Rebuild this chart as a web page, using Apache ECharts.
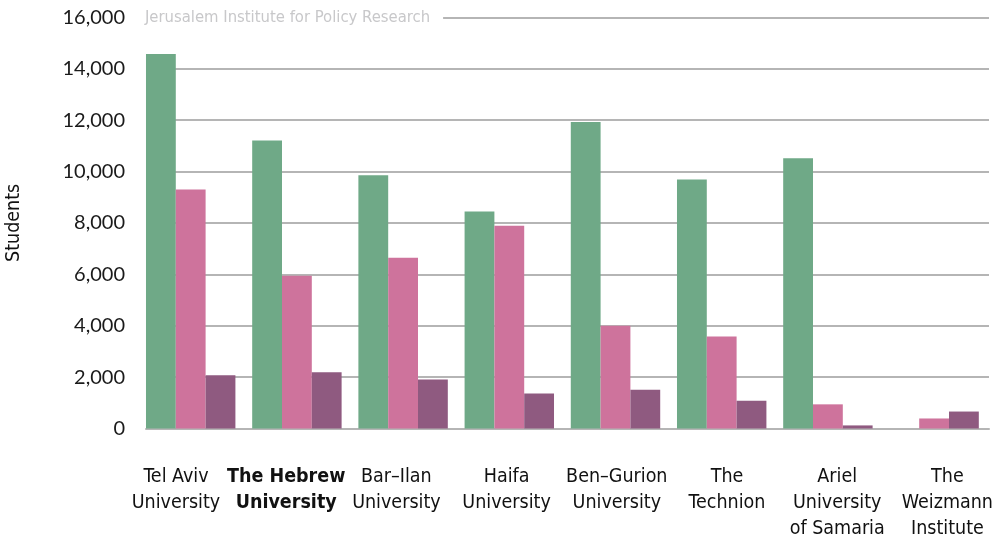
<!DOCTYPE html>
<html>
<head>
<meta charset="utf-8">
<script src="https://cdn.jsdelivr.net/npm/echarts@6/dist/echarts.min.js"></script>
<style>
html,body{margin:0;padding:0;background:#fff;}
#chart{width:994px;height:537px;}
</style>
</head>
<body>
<div id="chart"></div>
<script>
const categories = [
  "Tel Aviv\nUniversity",
  "The Hebrew\nUniversity",
  "Bar\u2013Ilan\nUniversity",
  "Haifa\nUniversity",
  "Ben\u2013Gurion\nUniversity",
  "The\nTechnion",
  "Ariel\nUniversity\nof Samaria",
  "The\nWeizmann\nInstitute"
];
const seriesNames = ["Bachelor's degree", "Master's degree", "Doctoral degree"];
const bachelor = [14570, 11210, 9850, 8440, 11930, 9690, 10520, 0];
const master = [9300, 5940, 6640, 7890, 4000, 3580, 940, 390];
const doctoral = [2070, 2190, 1910, 1360, 1510, 1080, 120, 660];
const yTicks = { min: 0, max: 16000, interval: 2000 };
const titleText = "Jerusalem Institute for Policy Research";
const yAxisName = "Students";

const narrow = "'DejaVu Sans Condensed', 'Liberation Sans Narrow', sans-serif";
const colors = ["#6fa987", "#ce739c", "#8f5a80"];
const gridTop = 17.3, gridBottom = 537 - 428.5;

const chart = echarts.init(document.getElementById('chart'), null, {renderer: 'canvas'});
chart.setOption({
  animation: false,
  backgroundColor: '#ffffff',
  title: {
    text: titleText,
    left: 145, top: 7,
    padding: [2, 13, 2, 0],
    backgroundColor: '#ffffff',
    z: 10,
    textStyle: { fontFamily: narrow, fontSize: 16.5, fontWeight: 'normal', color: '#c8c8ca' }
  },
  grid: [
    { left: 137.6, right: 6.8, top: gridTop, bottom: gridBottom, outerBoundsMode: 'none' },
    { left: 146, right: 5, top: gridTop, bottom: gridBottom, outerBoundsMode: 'none' },
    { left: 120.9, right: -8.5, top: gridTop, bottom: gridBottom, outerBoundsMode: 'none' }
  ],
  xAxis: [
    { type: 'category', gridIndex: 0, data: categories, axisLine: {show: false}, axisTick: {show: false}, axisLabel: {show: false} },
    { type: 'value', gridIndex: 1, min: 0, max: 1, axisLine: {show: true, lineStyle: {color: '#b5b5b5', width: 2}}, axisTick: {show: false}, axisLabel: {show: false}, splitLine: {show: false} },
    { type: 'category', gridIndex: 2, data: categories, axisLine: {show: false}, axisTick: {show: false},
      axisLabel: {
        interval: 0, margin: 35,
        fontFamily: narrow, fontSize: 19.5, lineHeight: 26, color: '#111',
        formatter: function (v, i) { return i === 1 ? '{b|' + v.split('\n').join('}\n{b|') + '}' : v; },
        rich: { b: { fontFamily: narrow, fontSize: 19.5, lineHeight: 26, fontWeight: 'bold', color: '#111' } }
      }
    }
  ],
  yAxis: [
    { type: 'value', gridIndex: 0, min: yTicks.min, max: yTicks.max, interval: yTicks.interval, show: false, splitLine: {show: false} },
    { type: 'value', gridIndex: 1, min: yTicks.min, max: yTicks.max, interval: yTicks.interval,
      name: yAxisName, nameLocation: 'middle', nameGap: 122, nameRotate: 90,
      nameTextStyle: { fontFamily: narrow, fontSize: 19.5, fontWeight: 500, color: '#111' },
      axisLine: {show: false}, axisTick: {show: false},
      axisLabel: { margin: 21, fontFamily: 'Lato', fontSize: 20, color: '#1a1a1a',
        formatter: function (v) { return v.toLocaleString('en-US'); } },
      splitLine: { lineStyle: { color: '#b5b5b5', width: 2 } }
    },
    { type: 'value', gridIndex: 2, min: 0, max: 1, show: false, splitLine: {show: false} }
  ],
  series: [
    { name: seriesNames[0], type: 'bar', xAxisIndex: 0, yAxisIndex: 0, data: bachelor, itemStyle: {color: colors[0]}, barGap: 0, barCategoryGap: '15.8%', z: 3 },
    { name: seriesNames[1], type: 'bar', xAxisIndex: 0, yAxisIndex: 0, data: master, itemStyle: {color: colors[1]}, barGap: 0, barCategoryGap: '15.8%', z: 3 },
    { name: seriesNames[2], type: 'bar', xAxisIndex: 0, yAxisIndex: 0, data: doctoral, itemStyle: {color: colors[2]}, barGap: 0, barCategoryGap: '15.8%', z: 3 }
  ]
});
</script>
</body>
</html>
